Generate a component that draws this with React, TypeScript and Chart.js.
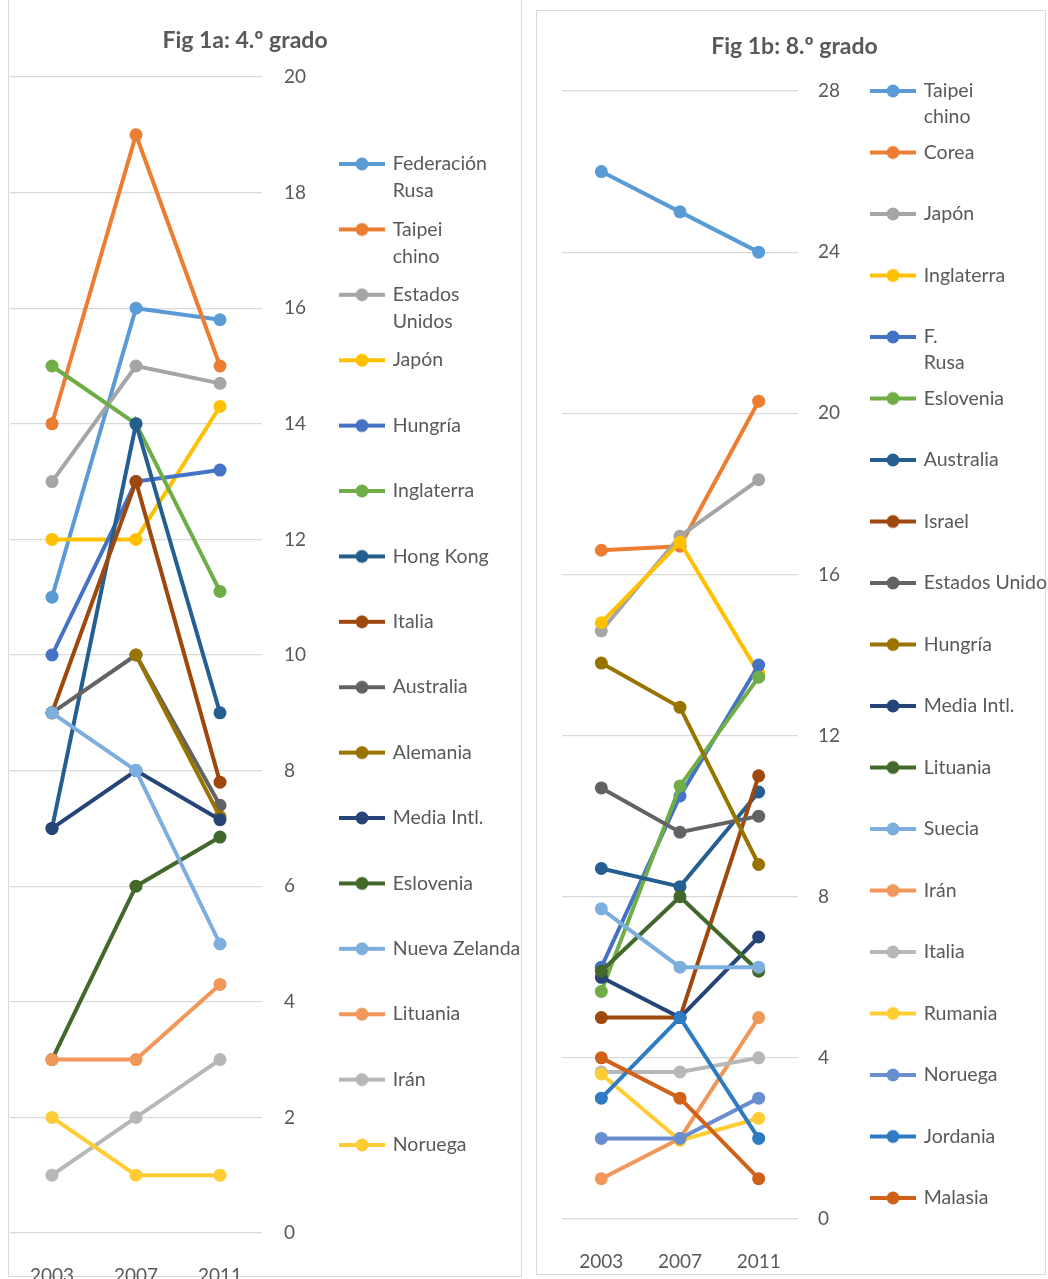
import React, { useEffect, useRef } from 'react';
import { Chart, registerables } from 'chart.js';

Chart.register(...registerables);

// ---------- shared ----------
const years = ['2003', '2007', '2011'];

// ---------- Fig 1a: 4.º grado ----------
const title4 = 'Fig 1a: 4.º grado';
const yMax4 = 20;
const yStep4 = 2;
const g4FederacionRusa = [11, 16, 15.8];
const g4TaipeiChino = [14, 19, 15];
const g4EstadosUnidos = [13, 15, 14.7];
const g4Japon = [12, 12, 14.3];
const g4Hungria = [10, 13, 13.2];
const g4Inglaterra = [15, 14, 11.1];
const g4HongKong = [7, 14, 9];
const g4Italia = [9, 13, 7.8];
const g4Australia = [9, 10, 7.4];
const g4Alemania = [null, 10, 7.2];
const g4MediaIntl = [7, 8, 7.15];
const g4Eslovenia = [3, 6, 6.85];
const g4NuevaZelanda = [9, 8, 5];
const g4Lituania = [3, 3, 4.3];
const g4Iran = [1, 2, 3];
const g4Noruega = [2, 1, 1];
const names4 = [
  'Federación\nRusa', 'Taipei\nchino', 'Estados\nUnidos', 'Japón', 'Hungría', 'Inglaterra',
  'Hong Kong', 'Italia', 'Australia', 'Alemania', 'Media Intl.', 'Eslovenia',
  'Nueva Zelanda', 'Lituania', 'Irán', 'Noruega',
];
const values4 = [
  g4FederacionRusa, g4TaipeiChino, g4EstadosUnidos, g4Japon, g4Hungria, g4Inglaterra,
  g4HongKong, g4Italia, g4Australia, g4Alemania, g4MediaIntl, g4Eslovenia,
  g4NuevaZelanda, g4Lituania, g4Iran, g4Noruega,
];

// ---------- Fig 1b: 8.º grado ----------
const title8 = 'Fig 1b: 8.º grado';
const yMax8 = 28;
const yStep8 = 4;
const g8TaipeiChino = [26, 25, 24];
const g8Corea = [16.6, 16.7, 20.3];
const g8Japon = [14.6, 16.95, 18.35];
const g8Inglaterra = [14.8, 16.8, 13.55];
const g8FRusa = [6.25, 10.5, 13.75];
const g8Eslovenia = [5.65, 10.75, 13.45];
const g8Australia = [8.7, 8.25, 10.6];
const g8Israel = [5, 5, 11];
const g8EstadosUnidos = [10.7, 9.6, 10];
const g8Hungria = [13.8, 12.7, 8.8];
const g8MediaIntl = [6, 5, 7];
const g8Lituania = [6.15, 8, 6.15];
const g8Suecia = [7.7, 6.25, 6.25];
const g8Iran = [1, 2, 5];
const g8Italia = [3.65, 3.65, 4];
const g8Rumania = [3.6, 1.95, 2.5];
const g8Noruega = [2, 2, 3];
const g8Jordania = [3, 5, 2];
const g8Malasia = [4, 3, 1];
const names8 = [
  'Taipei\nchino', 'Corea', 'Japón', 'Inglaterra', 'F.\nRusa', 'Eslovenia', 'Australia',
  'Israel', 'Estados Unidos', 'Hungría', 'Media Intl.', 'Lituania', 'Suecia', 'Irán',
  'Italia', 'Rumania', 'Noruega', 'Jordania', 'Malasia',
];
const values8 = [
  g8TaipeiChino, g8Corea, g8Japon, g8Inglaterra, g8FRusa, g8Eslovenia, g8Australia,
  g8Israel, g8EstadosUnidos, g8Hungria, g8MediaIntl, g8Lituania, g8Suecia, g8Iran,
  g8Italia, g8Rumania, g8Noruega, g8Jordania, g8Malasia,
];

// ---------- styles ----------
const palette = [
  '#5B9BD5', '#ED7D31', '#A5A5A5', '#FFC000', '#4472C4', '#70AD47',
  '#255E91', '#9E480E', '#636363', '#997300', '#264478', '#43682B',
  '#7CAFDD', '#F1975A', '#B7B7B7', '#FFCD33', '#698ED0', '#2E7BC4', '#D0601A',
];
const TEXT = '#595959';
const GRID = '#D9D9D9';
const FONT = 'Lato';
const LEG_SIZE = 19.5;
const BOX_W = 42;

function makeMarker(color: string) {
  const c = document.createElement('canvas');
  c.width = 46;
  c.height = 16;
  const ctx = c.getContext('2d')!;
  ctx.strokeStyle = color;
  ctx.lineWidth = 4;
  ctx.beginPath();
  ctx.moveTo(0, 8);
  ctx.lineTo(46, 8);
  ctx.stroke();
  ctx.fillStyle = color;
  ctx.beginPath();
  ctx.arc(23, 8, 6.5, 0, Math.PI * 2);
  ctx.fill();
  return c;
}

type PanelCfg = {
  title: string;
  names: string[];
  values: (number | null)[][];
  yMax: number;
  yStep: number;
  canvasLeft: number; canvasTop: number; w: number; h: number;
  chartLeft: number; chartRight: number;
  titleCenter: number;
  markerX: number;
  titleTop: number; titleBottom: number;
  legendPad: number; legendLine: number; legendTop: number;
  tickPad: number;
  xAxisHeight: number; xPad: number;
};

function Panel({ cfg }: { cfg: PanelCfg }) {
  const ref = useRef<HTMLCanvasElement>(null);
  useEffect(() => {
    const n = cfg.names.length;
    const lines = cfg.names.map((s) => {
      const l = s.split('\n');
      while (l.length < 2) l.push('');
      return l;
    });

    // legend geometry (same measurement as Chart.js)
    const mctx = document.createElement('canvas').getContext('2d')!;
    mctx.font = `${LEG_SIZE}px ${FONT}`;
    let maxText = 0;
    lines.forEach((l) => {
      const longest = l.reduce((a, b) => (a.length > b.length ? a : b));
      maxText = Math.max(maxText, mctx.measureText(longest).width);
    });
    const natural = cfg.legendPad + BOX_W + LEG_SIZE / 2 + maxText + 10;
    const legendW = natural - 4;
    const legendLeft = cfg.markerX - cfg.legendPad;
    const legendRight = legendLeft + legendW;
    const titleLeft = 2 * cfg.titleCenter - legendRight;
    const padL = titleLeft - cfg.canvasLeft;
    const padR = cfg.canvasLeft + cfg.w - legendRight;
    const leftSpacer = cfg.chartLeft - titleLeft;
    const axisW = legendLeft - cfg.chartRight;

    const datasets = cfg.values.map((vals, i) => ({
      label: cfg.names[i].replace('\n', ' '),
      data: vals,
      yAxisID: 'y',
      xAxisID: 'x',
      borderColor: palette[i],
      backgroundColor: palette[i],
      borderWidth: 4,
      pointRadius: 6.5,
      pointBorderWidth: 0,
      pointBackgroundColor: palette[i],
      tension: 0,
      spanGaps: false,
      order: n - i,
    }));
    const chart = new Chart(ref.current!, {
      type: 'line',
      data: { labels: years, datasets },
      options: {
        responsive: false,
        animation: false,
        devicePixelRatio: 1,
        events: [],
        layout: { padding: { left: padL, right: padR, top: 0, bottom: 0 } },
        scales: {
          x: {
            type: 'category',
            offset: true,
            grid: { display: false },
            border: { display: false },
            ticks: { color: TEXT, font: { family: FONT, size: 19 }, padding: cfg.xPad, maxRotation: 0 },
            afterFit: (axis: any) => { axis.height = cfg.xAxisHeight; },
          },
          y: {
            position: 'right',
            min: 0,
            max: cfg.yMax,
            ticks: { stepSize: cfg.yStep, color: TEXT, font: { family: FONT, size: 19 }, padding: cfg.tickPad },
            grid: { color: GRID, lineWidth: 1.2, drawTicks: false },
            border: { display: false },
            afterFit: (axis: any) => { axis.width = axisW; },
          },
          spacer: {
            type: 'linear',
            position: 'left',
            display: true,
            grid: { display: false },
            border: { display: false },
            ticks: { display: false },
            afterFit: (axis: any) => { axis.width = leftSpacer; },
          },
        },
        plugins: {
          tooltip: { enabled: false },
          title: {
            display: true,
            text: cfg.title,
            color: TEXT,
            font: { family: FONT, size: 23, weight: 'bold', lineHeight: 1.2 },
            padding: { top: cfg.titleTop, bottom: cfg.titleBottom },
          },
          legend: {
            display: true,
            position: 'right',
            align: 'start',
            fullSize: true,
            maxWidth: legendW,
            title: {
              display: true,
              text: '',
              font: { size: 1, lineHeight: '1px' },
              padding: { top: cfg.legendTop - 1, bottom: 0 },
            },
            labels: {
              usePointStyle: true,
              pointStyleWidth: BOX_W,
              padding: cfg.legendPad,
              color: TEXT,
              font: { family: FONT, size: LEG_SIZE, lineHeight: cfg.legendLine + 'px' },
              generateLabels: (ch: any) =>
                ch.data.datasets.map((ds: any, i: number) => ({
                  text: lines[i],
                  fillStyle: ds.borderColor,
                  strokeStyle: ds.borderColor,
                  fontColor: TEXT,
                  lineWidth: 0,
                  pointStyle: makeMarker(ds.borderColor),
                  hidden: false,
                  datasetIndex: i,
                })),
            },
          },
        },
      } as any,
    });
    return () => chart.destroy();
  }, []);
  return (
    <canvas
      ref={ref}
      width={cfg.w}
      height={cfg.h}
      style={{ position: 'absolute', left: cfg.canvasLeft, top: cfg.canvasTop, width: cfg.w, height: cfg.h }}
    />
  );
}

const left: PanelCfg = {
  title: title4, names: names4, values: values4, yMax: yMax4, yStep: yStep4,
  canvasLeft: -70, canvasTop: 0, w: 600, h: 1279,
  chartLeft: 10, chartRight: 262,
  titleCenter: 245,
  markerX: 341,
  titleTop: 27.2, titleBottom: 22.2,
  legendPad: 11.4, legendLine: 27, legendTop: 142.85,
  tickPad: 22,
  xAxisHeight: 46, xPad: 23,
};

const right: PanelCfg = {
  title: title8, names: names8, values: values8, yMax: yMax8, yStep: yStep8,
  canvasLeft: 490, canvasTop: 11, w: 558, h: 1262,
  chartLeft: 562, chartRight: 798,
  titleCenter: 794.5,
  markerX: 872,
  titleTop: 21.9, titleBottom: 30.5,
  legendPad: 9.5, legendLine: 26, legendTop: 60.75,
  tickPad: 20,
  xAxisHeight: 54, xPad: 23,
};

export default function App() {
  return (
    <div style={{ position: 'absolute', left: 0, top: 0, width: 1048, height: 1279, overflow: 'hidden', background: '#fff' }}>
      <div style={{ position: 'absolute', left: 8, top: -5, width: 512, height: 1280, border: '1px solid #D9D9D9' }} />
      <div style={{ position: 'absolute', left: 536, top: 10, width: 508, height: 1263, border: '1px solid #D9D9D9' }} />
      <Panel cfg={left} />
      <Panel cfg={right} />
    </div>
  );
}
